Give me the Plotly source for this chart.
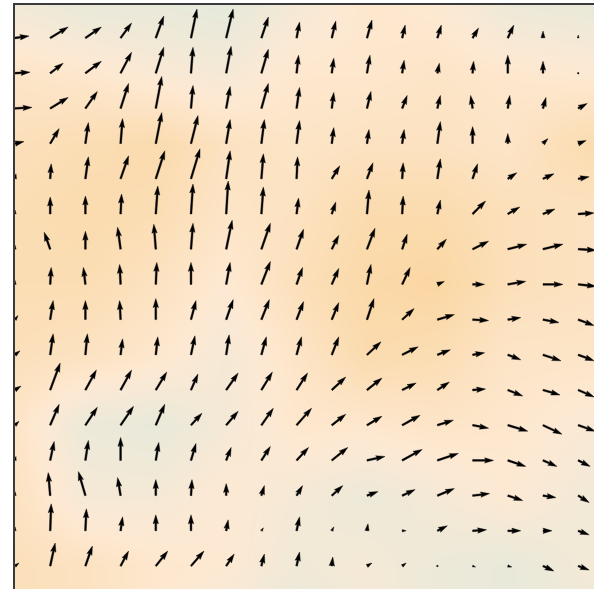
import numpy as np
import plotly.graph_objects as go

# Vector field on a 17 x 16 lattice; rows listed from the top row down,
# columns from left to right. Components in the same units as SCALE.
u = [
    [14, 18, 16, 11, 8, 6, 7, 7, 3, 4, 5, 3, 4, 6, 6, 0, 0],
    [15, 13, 16, 11, 8, 2, 5, 7, 2, 2, 3, 2, 2, 1, 0, 0, 0],
    [17, 18, 12, 8, 6, 2, 4, 7, 3, 2, 4, 5, 3, -2, 2, 3, 9],
    [9, 9, 3, 2, 6, 7, 4, 3, 3, 2, 2, 2, 3, 0, 0, 5, 8],
    [1, 1, 3, 8, 9, 9, 4, 2, 1, 8, 6, 1, 3, 5, 9, 11, 11],
    [0, 0, 0, 1, 2, 2, 2, 2, 2, 4, 2, 1, 3, 13, 12, 12, 16],
    [0, -6, 0, -3, -2, 2, 6, 9, 7, 7, 8, 5, 9, 16, 19, 20, 18],
    [0, 1, -2, -1, 1, 0, 4, 9, 6, 7, 4, 8, 7, 12, 18, 20, 18],
    [3, 3, 0, -1, 0, 5, 7, 8, 7, 7, 7, 12, 17, 16, 13, 16, 16],
    [5, 3, 2, 2, 2, 4, 3, 5, 5, 7, 14, 16, 13, 12, 13, 18, 16],
    [6, 10, 11, 11, 11, 7, 12, 11, 11, 14, 15, 14, 12, 13, 15, 17, 16],
    [4, 9, 12, 13, 9, 11, 12, 12, 15, 14, 15, 18, 16, 16, 20, 19, 17],
    [1, 4, 3, 0, 3, 5, 5, 9, 12, 16, 18, 20, 21, 21, 18, 14, 12],
    [0, -2, -7, -3, 0, 1, 0, 3, 6, 11, 11, 13, 17, 17, 15, 13, 11],
    [0, 1, 1, 2, 0, 0, 2, 2, 3, 2, 1, 4, 10, 14, 13, 9, 11],
    [4, 5, 7, 8, 12, 13, 8, 3, 3, 1, 5, 4, 1, 3, 4, 11, 11],
]
v = [
    [2, 11, 11, 15, 22, 29, 29, 21, 16, 17, 18, 13, 13, 10, 13, 7, 3],
    [1, 10, 12, 21, 26, 26, 27, 24, 18, 15, 18, 13, 10, 12, 18, 12, 1],
    [1, 11, 17, 25, 32, 23, 22, 25, 21, 16, 17, 13, 13, 13, 13, 11, 5],
    [2, 15, 21, 25, 31, 28, 24, 24, 23, 16, 14, 14, 22, 17, 10, 5, 3],
    [5, 15, 22, 23, 28, 30, 28, 25, 22, 13, 16, 16, 20, 15, 6, 5, 2],
    [4, 17, 18, 20, 28, 30, 33, 27, 16, 12, 24, 18, 14, 13, 7, 5, 1],
    [4, 17, 18, 22, 25, 26, 29, 26, 20, 14, 21, 15, 10, 8, 5, 5, -1],
    [4, 17, 17, 20, 22, 22, 22, 23, 17, 16, 20, 17, 3, 0, 3, 0, -2],
    [4, 19, 19, 19, 21, 19, 20, 20, 18, 17, 21, 11, 5, -1, 2, -3, -6],
    [4, 21, 21, 16, 18, 19, 20, 18, 18, 18, 13, 8, 5, 2, -5, -6, -6],
    [4, 27, 20, 20, 18, 16, 17, 18, 17, 13, 12, 7, 8, 1, -6, -5, -7],
    [4, 21, 18, 19, 21, 12, 14, 17, 17, 11, 9, 10, 5, -3, -6, -9, -6],
    [4, 19, 20, 23, 18, 17, 13, 14, 13, 13, 4, 11, 7, 0, -6, -6, -6],
    [4, 23, 24, 18, 16, 16, 12, 10, 10, 10, 4, 6, 7, 2, -5, -2, -7],
    [4, 27, 22, 14, 16, 16, 11, 3, 14, 4, 7, 0, 5, 1, 0, 0, -4],
    [3, 23, 20, 15, 15, 15, 12, 12, 14, 9, 3, 3, 1, -1, -1, -5, -4],
]
col_x = list(range(17))
row_y = list(range(15, -1, -1))

# Smooth scalar field shown underneath the arrows
heat_x = [0, 2, 4, 6, 8, 10, 12, 14, 16.5]
heat_y = [16, 14, 12, 10, 8, 6, 4, 2, 0, -0.7]
heat_z = [
    [-0.3, -0.5, -0.5, -0.6, -0.2, 0.1, 0.0, -0.4, -0.5],
    [0.2, 0.1, -0.1, -0.2, 0.1, 0.1, 0.2, 0.1, 0.0],
    [0.4, 0.5, 0.6, 0.3, 0.2, 0.3, 0.3, 0.2, 0.6],
    [0.5, 0.6, 0.5, 0.2, 0.3, 0.6, 0.6, 0.4, 0.3],
    [0.5, 0.5, 0.3, 0.0, 0.4, 0.7, 0.8, 0.4, 0.3],
    [0.4, 0.3, 0.1, -0.2, 0.2, 0.6, 0.5, 0.2, 0.2],
    [0.2, -0.4, -0.5, -0.2, 0.1, 0.1, 0.2, 0.1, -0.1],
    [0.3, -0.2, -0.2, 0.0, -0.2, -0.4, -0.2, 0.0, -0.3],
    [0.4, 0.3, 0.1, 0.0, -0.3, -0.2, -0.4, -0.5, -0.2],
    [0.4, 0.3, 0.1, -0.1, -0.4, -0.2, -0.4, -0.5, -0.3],
]

SCALE = 35.2          # vector units per lattice step
WIDTH = 1.8 / SCALE   # shaft width in lattice units
HEAD_LEN, HEAD_AXIS, HEAD_W = 5 * WIDTH, 4.5 * WIDTH, 3 * WIDTH


def arrow_outline(x0, y0, du, dv):
    """Closed outline of one arrow, tail at (x0, y0), in axis units."""
    length = np.hypot(du, dv) / SCALE
    ang = np.arctan2(dv, du)
    if length < WIDTH:
        t = np.arange(7) * np.pi / 3
        a = 0.5 * WIDTH * np.cos(t)
        c = 0.5 * WIDTH * np.sin(t)
    else:
        full = max(length, HEAD_LEN)
        a = np.array([0, full - HEAD_AXIS, full - HEAD_LEN, full,
                      full - HEAD_LEN, full - HEAD_AXIS, 0, 0])
        c = np.array([-WIDTH / 2, -WIDTH / 2, -HEAD_W / 2, 0,
                      HEAD_W / 2, WIDTH / 2, WIDTH / 2, -WIDTH / 2])
        if length < HEAD_LEN:
            k = length / HEAD_LEN
            a, c = a * k, c * k
    xs = x0 + a * np.cos(ang) - c * np.sin(ang)
    ys = y0 + a * np.sin(ang) + c * np.cos(ang)
    return list(xs), list(ys)


ax_pts, ay_pts = [], []
for r, yv in enumerate(row_y):
    for cidx, xv in enumerate(col_x):
        px, py = arrow_outline(xv, yv, u[r][cidx], v[r][cidx])
        ax_pts += px + [None]
        ay_pts += py + [None]

fig = go.Figure()
fig.add_trace(go.Heatmap(
    x=heat_x, y=heat_y, z=heat_z, zsmooth="best", zmin=-1, zmax=1,
    colorscale=[[0.0, "rgb(212,234,226)"], [0.5, "rgb(253,233,211)"],
                [1.0, "rgb(250,210,150)"]],
    showscale=False, hoverinfo="skip",
))
fig.add_trace(go.Scatter(
    x=ax_pts, y=ay_pts, mode="lines", fill="toself",
    fillcolor="black", line=dict(color="black", width=0.4),
    hoverinfo="skip", showlegend=False,
))

x_max = 579 / SCALE
y_top = 15 + 33 / SCALE
y_bot = y_top - 584 / SCALE
fig.update_layout(
    width=594, height=589,
    margin=dict(l=15, r=0, t=5, b=0),
    paper_bgcolor="white", plot_bgcolor="white",
    showlegend=False,
    xaxis=dict(range=[0, x_max], side="top", showline=True, linecolor="#3a3a3a",
               linewidth=2, showgrid=False, zeroline=False, ticks="",
               showticklabels=False),
    yaxis=dict(range=[y_bot, y_top], showline=True, linecolor="#3a3a3a",
               linewidth=2, showgrid=False, zeroline=False, ticks="",
               showticklabels=False),
)
fig.write_html("out.html", config={"displayModeBar": False})
